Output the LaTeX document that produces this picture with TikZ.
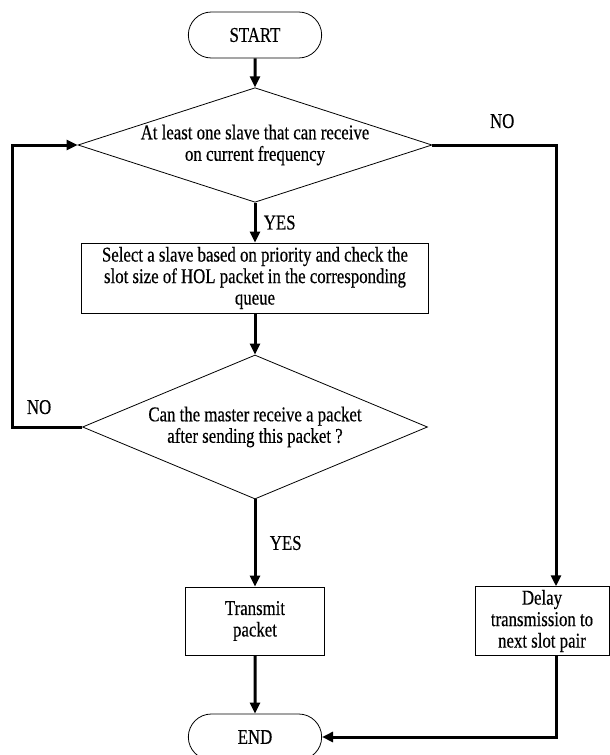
\documentclass[tikz,border=0pt]{standalone}
\usepackage{fontspec}
\setmainfont{Liberation Serif}[FakeStretch=0.8, FakeBold=0.4]
\usepackage{tikz}
\usetikzlibrary{shapes,arrows.meta,positioning}

\begin{document}
\begin{tikzpicture}[
    x=1pt, y=1pt,
    font=\fontsize{21}{21.5}\selectfont,
    terminal/.style={rounded rectangle, draw=black, line width=0.8pt, minimum width=140pt, minimum height=46pt},
    decision/.style={diamond, draw=black, line width=0.8pt, inner sep=0pt, align=center},
    block/.style={rectangle, draw=black, line width=0.8pt, align=center, minimum height=68pt},
    arrow/.style={-{Triangle[length=11pt,width=10pt]}, line width=3pt}
]
\useasboundingbox (0,0) rectangle (610,-755);

% Start
\node [terminal] (start) at (255,-35) {START};

% First check
\node [decision, aspect=3.09, minimum width=352pt, minimum height=114pt, node distance=110pt, below of=start] (slavecheck) {At least one slave that can receive\\on current frequency};
\node [block, minimum width=347pt, minimum height=70pt, node distance=133pt, below of=slavecheck] (select) {Select a slave based on priority and check the\\slot size of HOL packet in the corresponding\\queue};

% Second check
\node [decision, aspect=2.4, minimum width=345pt, minimum height=144pt, node distance=149pt, below of=select] (mastercheck) {Can the master receive a packet\\after sending this packet ?};

% Actions
\node [block, minimum width=139pt, node distance=194pt, below of=mastercheck] (transmit) {Transmit\\packet};
\node [block, minimum width=134pt, node distance=287pt, right of=transmit] (delay) {Delay\\transmission to\\next slot pair};

% End
\node [terminal, node distance=116pt, below of=transmit] (finish) {END};

% Arrows
\draw [arrow] (start) -- (slavecheck);
\draw [arrow] (slavecheck) -- node [right, xshift=4pt] {YES} (select);
\draw [arrow] (select) -- (mastercheck);
\draw [arrow] (mastercheck) -- node [right, xshift=10pt] {YES} (transmit);
\draw [arrow] (transmit) -- (finish);
\draw [arrow] (slavecheck.east) -| node [pos=0.25, above, xshift=8pt, yshift=12pt] {NO} ([xshift=14pt]delay.north);
\draw [arrow] ([xshift=14pt]delay.south) |- (finish.east);

% Loop back
\draw [arrow] (mastercheck.west) -- node [above, xshift=-8pt, yshift=8pt] {NO} ++(-70,0) |- (slavecheck.west);

\end{tikzpicture}
\end{document}
